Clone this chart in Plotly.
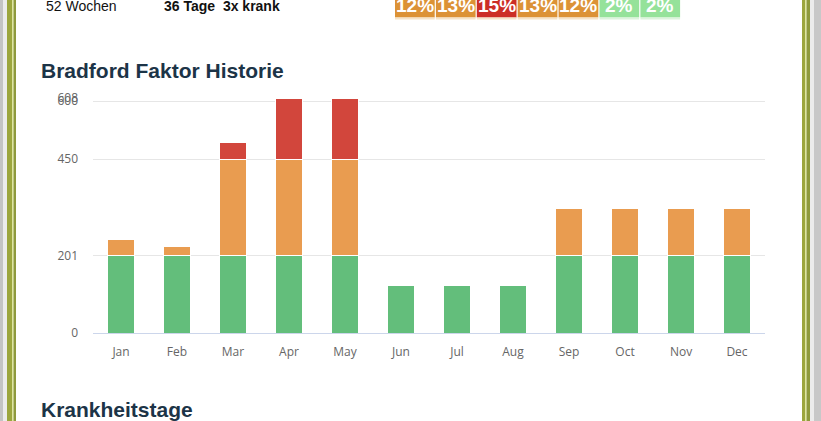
import plotly.graph_objects as go

# ---------------- data ----------------
months = ["Jan", "Feb", "Mar", "Apr", "May", "Jun", "Jul", "Aug", "Sep", "Oct", "Nov", "Dec"]
green_part = [201, 201, 201, 201, 201, 123, 123, 123, 201, 201, 201, 201]
orange_part = [42, 23, 249, 249, 249, 0, 0, 0, 122, 122, 122, 122]
red_part = [0, 0, 43, 158, 158, 0, 0, 0, 0, 0, 0, 0]
y_ticks = [0, 201, 450, 600, 608]

pct_values = [12, 13, 15, 13, 12, 2, 2]
pct_levels = ["mid", "mid", "high", "mid", "mid", "low", "low"]

summary_weeks = "52 Wochen"
summary_days = "36 Tage  3x krank"
title_chart = "Bradford Faktor Historie"
title_next = "Krankheitstage"

# ---------------- layout geometry ----------------
W, H = 821, 421
L, R, T, B = 93, 56, 98, 88
PW, PH = W - L - R, H - T - B

def px(x):
    return (x - L) / PW

def py(y):
    return 1 - (y - T) / PH

GREEN = "#63be7b"
ORANGE = "#e99c50"
RED = "#d2463c"
level_colors = {"mid": "#dc9236", "high": "#cc2e26", "low": "#95e29a"}

fig = go.Figure()
for name, vals, col in [("green", green_part, GREEN), ("orange", orange_part, ORANGE), ("red", red_part, RED)]:
    fig.add_trace(go.Bar(
        x=months, y=vals, name=name, marker=dict(color=col, line=dict(color="white", width=1)),
        hoverinfo="skip",
    ))

shapes = []
annotations = []

# page borders
def rect(x0, x1, y0, y1, color):
    shapes.append(dict(type="rect", xref="paper", yref="paper", x0=px(x0), x1=px(x1),
                       y0=py(y1), y1=py(y0), fillcolor=color, line=dict(width=0), layer="below"))

rect(0, 3, 0, H, "#c4c4c4")
rect(3, 7, 0, H, "#ececec")
rect(7, 12, 0, H, "#9ca63e")
rect(12, 13.5, 0, H, "#dfe6a0")
rect(13.5, 16, 0, H, "#8e9a3c")
rect(802, 805, 0, H, "#9ca63e")
rect(805, 806.5, 0, H, "#dfe6a0")
rect(806.5, 810, 0, H, "#8e9a3c")
rect(810, 814, 0, H, "#ececec")
rect(814, 821, 0, H, "#c8c8c8")

# percentage boxes
box_x0 = 395
box_w = 40.9
for i, (v, lvl) in enumerate(zip(pct_values, pct_levels)):
    x0 = box_x0 + i * box_w
    x1 = x0 + box_w - 1.2
    col = level_colors[lvl]
    rect(x0, x1, -4, 17.5, col)
    rect(x0, x1, 17.5, 19.5, "#f6e3c8" if lvl != "low" else "#dcf3dc")
    annotations.append(dict(x=px((x0 + x1) / 2), y=py(5.5), xref="paper", yref="paper",
                            text=f"<b>{v}%</b>", showarrow=False,
                            font=dict(family="Liberation Sans, Arial", size=19, color="white"),
                            xanchor="center", yanchor="middle"))

# texts
annotations.append(dict(x=px(44), y=py(6), xref="paper", yref="paper", text=summary_weeks,
                        showarrow=False, xanchor="left", yanchor="middle",
                        font=dict(family="Liberation Sans, Arial", size=14, color="#111111")))
annotations.append(dict(x=px(162), y=py(6), xref="paper", yref="paper", text=f"<b>{summary_days}</b>",
                        showarrow=False, xanchor="left", yanchor="middle",
                        font=dict(family="Liberation Sans, Arial", size=14, color="#111111")))
annotations.append(dict(x=px(39), y=py(71), xref="paper", yref="paper", text=f"<b>{title_chart}</b>",
                        showarrow=False, xanchor="left", yanchor="middle",
                        font=dict(family="Liberation Sans, Arial", size=21, color="#1c3447")))
annotations.append(dict(x=px(39), y=py(409), xref="paper", yref="paper", text=f"<b>{title_next}</b>",
                        showarrow=False, xanchor="left", yanchor="middle",
                        font=dict(family="Liberation Sans, Arial", size=21, color="#1c3447")))

fig.update_layout(
    width=W, height=H,
    margin=dict(l=L, r=R, t=T, b=B, pad=0),
    barmode="stack", bargap=0.535,
    showlegend=False,
    paper_bgcolor="white", plot_bgcolor="white",
    shapes=shapes, annotations=annotations,
    xaxis=dict(
        showgrid=False, showline=True, linecolor="#ccd6eb", linewidth=1,
        ticks="", tickfont=dict(family="Open Sans", size=12, color="#666666"),
        ticklabelstandoff=8, fixedrange=True,
    ),
    yaxis=dict(
        range=[0, 608], tickvals=y_ticks, ticktext=[str(v) for v in y_ticks],
        showgrid=True, gridcolor="#e6e6e6", gridwidth=1, zeroline=False,
        ticks="", tickfont=dict(family="Open Sans", size=12, color="#666666"),
        ticklabelstandoff=14, fixedrange=True,
    ),
)

fig.write_html(
    "out.html",
    config={"displayModeBar": False},
    post_script="document.body.style.margin='0px';document.body.style.overflow='hidden';",
)
